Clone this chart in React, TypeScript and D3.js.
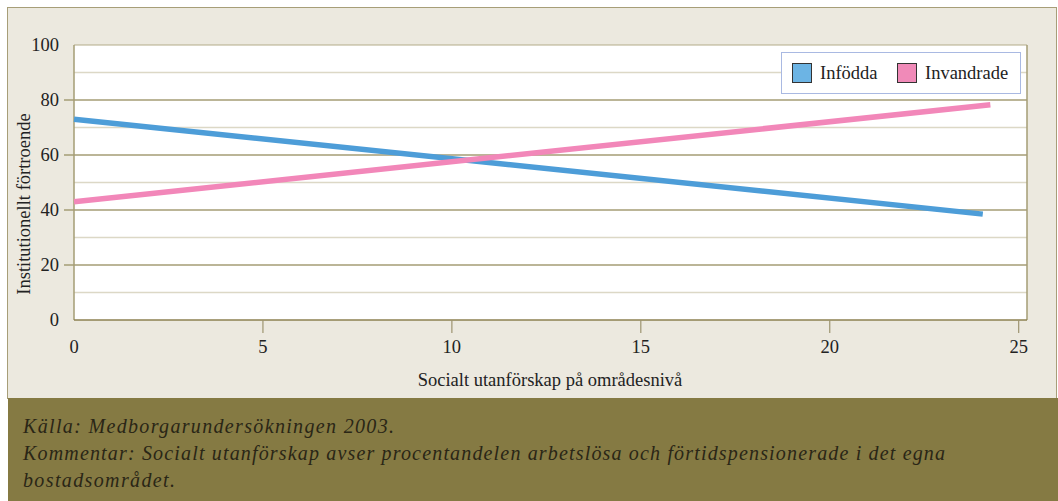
import React from "react";
import * as d3 from "d3";

const seriesNames = ["Infödda", "Invandrade"];
const infoddaX = [0, 24.05];
const infoddaY = [73, 38.5];
const invandradeX = [0, 24.25];
const invandradeY = [43, 78.3];
const xTicks = [0, 5, 10, 15, 20, 25];
const yTicks = [0, 20, 40, 60, 80, 100];
const yMinor = [10, 30, 50, 70, 90];
const xTitle = "Socialt utanförskap på områdesnivå";
const yTitle = "Institutionellt förtroende";
const captionLines = [
  "Källa: Medborgarundersökningen 2003.",
  "Kommentar: Socialt utanförskap avser procentandelen arbetslösa och förtidspensionerade i det egna",
  "bostadsområdet.",
];

const W = 1058;
const H = 501;
const FONT = "'Liberation Serif', 'Times New Roman', serif";
const plot = { left: 74, right: 1027, top: 45, bottom: 320 };
const colors = { blue: "#4d9dd8", pink: "#f287b9", blueSw: "#6cb4e4", pinkSw: "#f08ab8" };

export default function App() {
  const x = d3.scaleLinear().domain([0, 25.22]).range([plot.left, plot.right]);
  const y = d3.scaleLinear().domain([0, 100]).range([plot.bottom, plot.top]);
  const line = d3
    .line<[number, number]>()
    .x((d) => x(d[0]))
    .y((d) => y(d[1]));
  const blueData = infoddaX.map((v, i) => [v, infoddaY[i]] as [number, number]);
  const pinkData = invandradeX.map((v, i) => [v, invandradeY[i]] as [number, number]);
  const captionWidths = [371, 922, 152];

  return (
    <svg
      width={W}
      height={H}
      style={{ position: "absolute", left: 0, top: 0, fontFamily: FONT }}
    >
      <rect x={0} y={0} width={W} height={H} fill="#ffffff" />
      <rect x={7.5} y={7.5} width={1049} height={391} fill="#ece9df" stroke="#a79e78" strokeWidth={1} />
      <rect x={8} y={398} width={1050} height={103} fill="#857a43" />

      {/* plot area */}
      <rect x={plot.left} y={plot.top} width={plot.right - plot.left} height={plot.bottom - plot.top} fill="#ffffff" />
      {yMinor.map((v) => (
        <line key={"m" + v} x1={plot.left} x2={plot.right} y1={y(v)} y2={y(v)} stroke="#dcd8c6" strokeWidth={1.5} />
      ))}
      {yTicks.filter((v) => v > 0 && v < 100).map((v) => (
        <line key={"g" + v} x1={plot.left - 10} x2={plot.right} y1={y(v)} y2={y(v)} stroke="#a59c74" strokeWidth={1.5} />
      ))}
      <line x1={plot.left} x2={plot.right} y1={plot.top} y2={plot.top} stroke="#b3ab88" strokeWidth={1} />
      <line x1={plot.right} x2={plot.right} y1={plot.top} y2={plot.bottom} stroke="#a59c74" strokeWidth={1.5} />
      <line x1={plot.left} x2={plot.left} y1={plot.top} y2={plot.bottom} stroke="#a59c74" strokeWidth={1.5} />
      <line x1={plot.left} x2={plot.right} y1={plot.bottom} y2={plot.bottom} stroke="#8c8050" strokeWidth={1.5} />

      {/* x ticks */}
      {xTicks.map((v) => (
        <g key={"x" + v}>
          {v > 0 && (
            <line x1={x(v)} x2={x(v)} y1={plot.bottom} y2={plot.bottom + 13} stroke="#9d9470" strokeWidth={1.2} />
          )}
          <text x={x(v)} y={353} textAnchor="middle" fontSize={18.5} fill="#222">
            {v}
          </text>
        </g>
      ))}
      {/* y ticks */}
      {yTicks.map((v) => (
        <text key={"y" + v} x={59} y={y(v) + 6} textAnchor="end" fontSize={18.5} fill="#222">
          {v}
        </text>
      ))}

      <text x={550} y={386} textAnchor="middle" fontSize={18.5} fill="#222">
        {xTitle}
      </text>
      <text
        transform={`translate(29.5, 204) rotate(-90)`}
        textAnchor="middle"
        fontSize={18.5}
        fill="#222"
      >
        {yTitle}
      </text>

      {/* lines */}
      <path d={line(blueData) || ""} fill="none" stroke={colors.blue} strokeWidth={5.5} />
      <path d={line(pinkData) || ""} fill="none" stroke={colors.pink} strokeWidth={5.5} />

      {/* legend */}
      <rect x={781.5} y={52.5} width={239} height={41} fill="#ffffff" stroke="#a9b9e2" strokeWidth={1} />
      <rect x={792.5} y={63.5} width={19} height={19} fill={colors.blueSw} stroke="#333" strokeWidth={1} />
      <text x={820} y={79} fontSize={18.5} fill="#222">{seriesNames[0]}</text>
      <rect x={897.5} y={63.5} width={19} height={19} fill={colors.pinkSw} stroke="#333" strokeWidth={1} />
      <text x={925} y={79} fontSize={18.5} fill="#222">{seriesNames[1]}</text>

      {/* caption */}
      {captionLines.map((t, i) => (
        <text
          key={"c" + i}
          x={23}
          y={433 + i * 27}
          fontSize={20}
          fontStyle="italic"
          fill="#2a2616"
          textLength={captionWidths[i]}
          lengthAdjust="spacing"
        >
          {t}
        </text>
      ))}
    </svg>
  );
}
